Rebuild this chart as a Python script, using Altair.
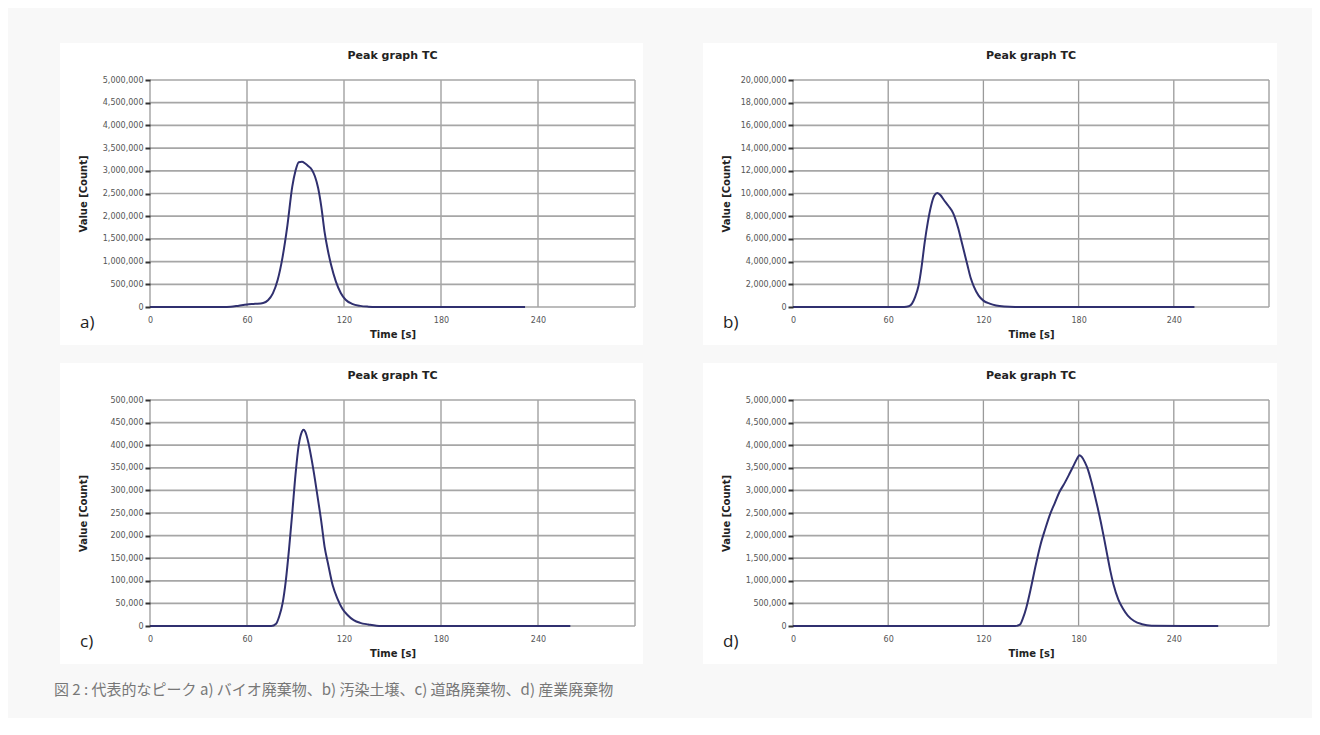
import altair as alt
import pandas as pd

# ---- data ----
a_time = [0, 45, 50, 55, 60, 65, 70, 73, 76, 79, 82, 85, 88, 90, 92, 94, 96, 98, 100, 102, 104, 106, 108, 110, 112, 115, 118, 121, 125, 130, 135, 140, 232]
a_value = [0, 0, 5000, 30000, 55000, 70000, 90000, 150000, 300000, 600000, 1100000, 1800000, 2650000, 3000000, 3190000, 3200000, 3160000, 3100000, 3030000, 2880000, 2620000, 2200000, 1650000, 1250000, 930000, 560000, 310000, 160000, 70000, 25000, 8000, 2000, 0]

b_time = [0, 70, 73, 75, 77, 79, 81, 83, 85, 87, 89, 91, 93, 95, 98, 101, 104, 106, 108, 110, 112, 114, 117, 120, 124, 128, 133, 140, 253]
b_value = [0, 0, 60000, 300000, 900000, 1800000, 3500000, 5700000, 7500000, 8900000, 9800000, 10050000, 9850000, 9450000, 8900000, 8250000, 7000000, 5900000, 4770000, 3650000, 2550000, 1800000, 1000000, 560000, 300000, 140000, 50000, 10000, 0]

c_time = [0, 75, 78, 80, 82, 84, 86, 88, 90, 92, 94, 95, 96, 98, 100, 102, 104, 106, 108, 110, 113, 116, 119, 122, 126, 130, 135, 143, 260]
c_value = [0, 0, 5000, 22000, 50000, 100000, 170000, 250000, 335000, 400000, 430000, 434000, 430000, 405000, 368000, 325000, 278000, 230000, 175000, 140000, 90000, 60000, 38000, 25000, 13000, 7000, 3500, 0, 0]

d_time = [0, 140, 143, 145, 147, 150, 153, 156, 159, 162, 165, 168, 171, 174, 177, 179, 180.5, 182, 184, 186, 188, 190, 192, 194, 196, 198, 200, 202, 205, 208, 211, 215, 220, 226, 268]
d_value = [0, 0, 30000, 180000, 400000, 850000, 1350000, 1800000, 2150000, 2470000, 2720000, 2970000, 3150000, 3350000, 3560000, 3700000, 3780000, 3740000, 3620000, 3450000, 3200000, 2920000, 2620000, 2300000, 1950000, 1580000, 1220000, 920000, 590000, 380000, 230000, 110000, 40000, 8000, 0]

x_tick_values = [0, 60, 120, 180, 240]
x_grid_values = [0, 60, 120, 180, 240, 300]
a_y_ticks = [i * 500000 for i in range(11)]
b_y_ticks = [i * 2000000 for i in range(11)]
c_y_ticks = [i * 50000 for i in range(11)]
d_y_ticks = [i * 500000 for i in range(11)]

chart_title = "Peak graph TC"
x_title = "Time [s]"
y_title = "Value [Count]"
letters = ["a)", "b)", "c)", "d)"]
caption = "図 2 : 代表的なピーク a) バイオ廃棄物、b) 汚染土壌、c) 道路廃棄物、d) 産業廃棄物"

FONT = "DejaVu Sans"
LINE_COLOR = "#30306f"
VGRID_COLOR = "#9a9a9a"
HGRID_COLOR = "#a6a6a6"


def panel(times, values, yticks, w, h, letter, with_caption=False):
    df = pd.DataFrame({"t": times, "v": values})
    ymax = yticks[-1]
    xscale = alt.Scale(domain=[0, 300], nice=False, zero=False)
    yscale = alt.Scale(domain=[0, ymax], nice=False, zero=True)
    xaxis = alt.Axis(
        values=x_tick_values, title=x_title, grid=False, domain=False,
        ticks=False, tickSize=0, labelPadding=9, labelFlush=False,
        labelFont=FONT, labelFontSize=8, labelColor="#555",
        titleFont=FONT, titleFontSize=10, titleFontWeight="bold", titleColor="#222",
        titleY=27, titleBaseline="middle", zindex=1,
    )
    yaxis = alt.Axis(
        values=yticks, format=",d", title=y_title, grid=False, domain=False,
        tickSize=5, tickWidth=2, tickColor="#333", labelPadding=2,
        labelFont=FONT, labelFontSize=8, labelColor="#555",
        titleFont=FONT, titleFontSize=10, titleFontWeight="bold", titleColor="#222",
        titleX=-67, titleY=h / 2, titleAngle=270, titleBaseline="middle", zindex=1,
    )
    one = pd.DataFrame({"d": [0]})

    bg = alt.Chart(one).mark_rect(color="white", clip=False).encode(
        x=alt.value(-90), x2=alt.value(w + 8), y=alt.value(-37), y2=alt.value(h + 38)
    )
    vgrid = alt.Chart(pd.DataFrame({"t": x_grid_values})).mark_rule(
        color=VGRID_COLOR, strokeWidth=1.3
    ).encode(x=alt.X("t:Q", scale=xscale, axis=xaxis))
    hgrid = alt.Chart(pd.DataFrame({"v": yticks})).mark_rule(
        color=HGRID_COLOR, strokeWidth=1.7
    ).encode(y=alt.Y("v:Q", scale=yscale, axis=yaxis))
    line = alt.Chart(df).mark_line(
        color=LINE_COLOR, strokeWidth=2, interpolate="monotone"
    ).encode(
        x=alt.X("t:Q", scale=xscale, axis=xaxis),
        y=alt.Y("v:Q", scale=yscale, axis=yaxis),
    )
    title = alt.Chart(one).mark_text(
        text=chart_title, font=FONT, fontSize=11, fontWeight="bold", color="#222",
        align="center", baseline="middle",
    ).encode(x=alt.value(w / 2), y=alt.value(-24))
    lab = alt.Chart(one).mark_text(
        text=letter, font="Open Sans", fontSize=17, color="#222",
        align="left", baseline="middle",
    ).encode(x=alt.value(-70), y=alt.value(h + 16))
    layers = [bg, vgrid, hgrid, line, title, lab]
    if with_caption:
        cap = alt.Chart(one).mark_text(
            text=caption, font="Noto Sans CJK JP", fontSize=15, color="#777",
            align="left", baseline="middle",
        ).encode(x=alt.value(-96), y=alt.value(h + 64))
        layers.append(cap)
    return alt.layer(*layers).properties(width=w, height=h)


LW, RW = 485, 476
TH, BH = 227, 226

pa = panel(a_time, a_value, a_y_ticks, LW, TH, letters[0])
pb = panel(b_time, b_value, b_y_ticks, RW, TH, letters[1])
pc = panel(c_time, c_value, c_y_ticks, LW, BH, letters[2], with_caption=True)
pd_ = panel(d_time, d_value, d_y_ticks, RW, BH, letters[3])

chart = alt.concat(
    pa, pb, pc, pd_, columns=2,
    spacing={"row": 93, "column": 158}, bounds="flush",
).properties(
    background="#f8f8f8",
    padding={"left": 46, "top": 35, "right": 35, "bottom": 20},
).configure_view(stroke=None)

chart.save("out.html", embed_options={"renderer": "svg", "actions": False})
